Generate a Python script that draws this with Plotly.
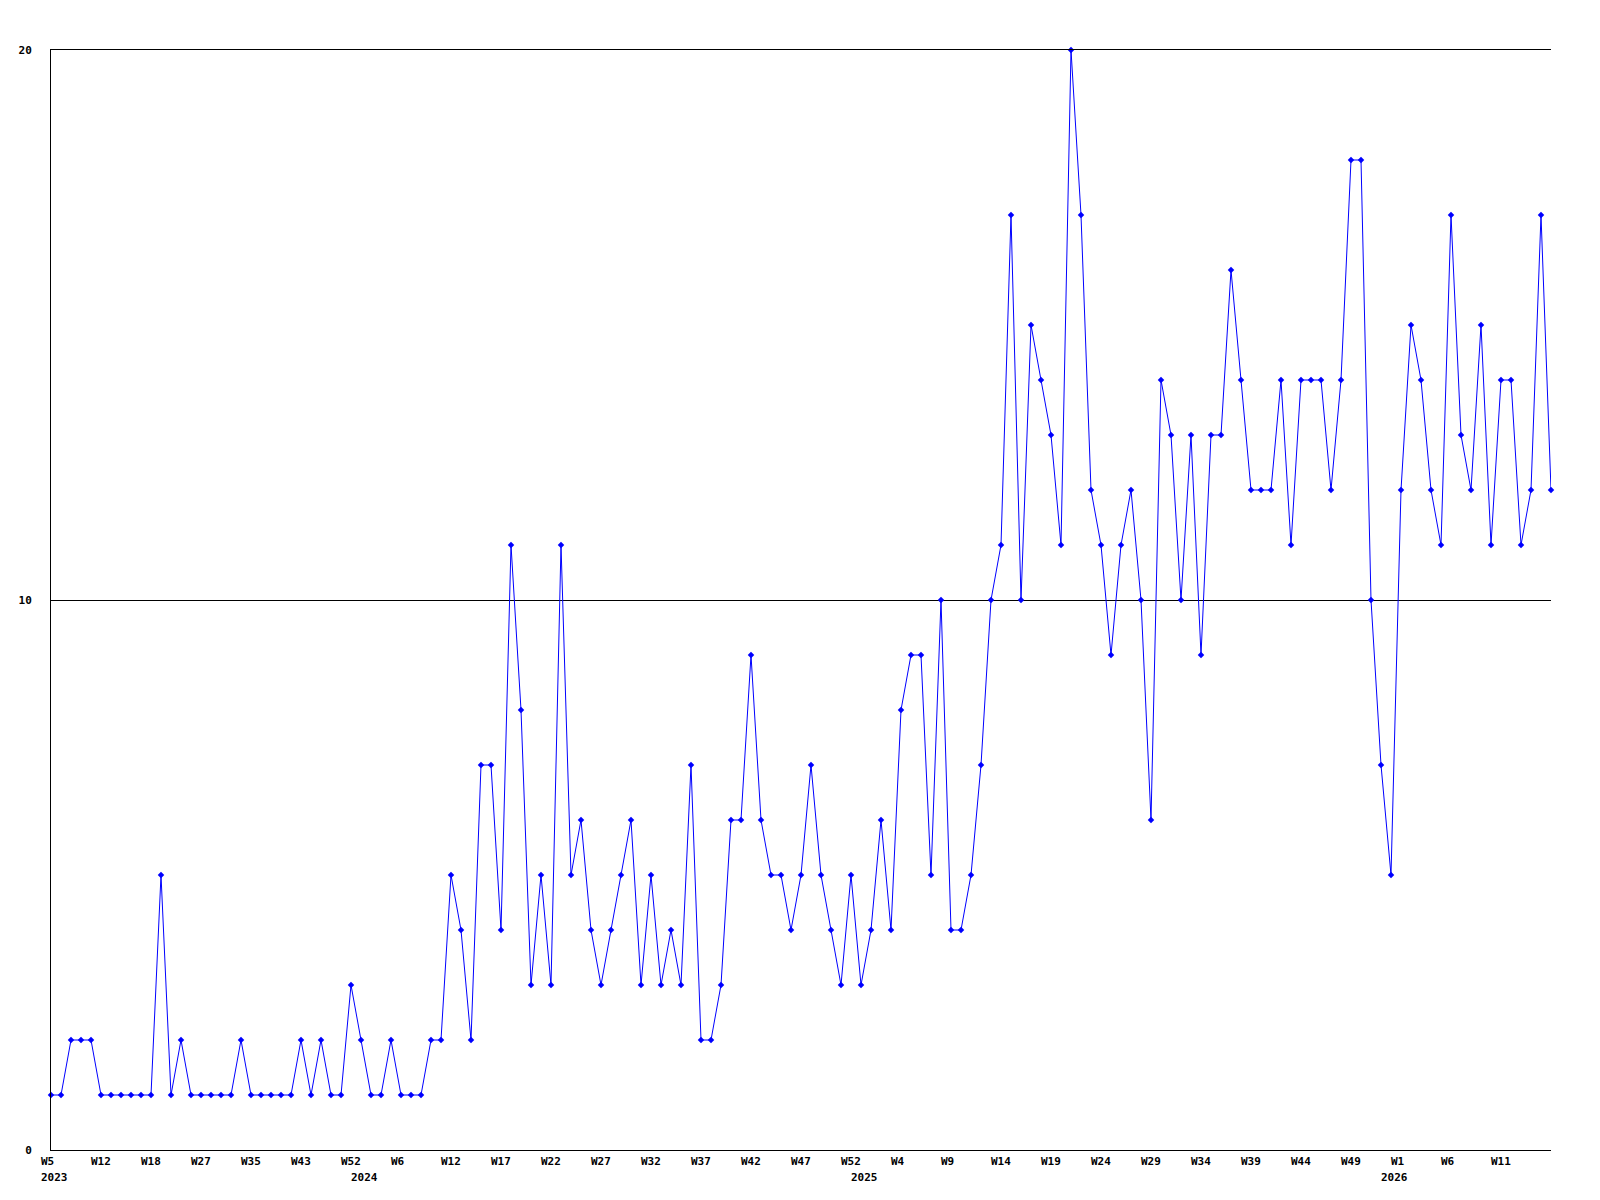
import plotly.graph_objects as go

values = [1, 1, 2, 2, 2, 1, 1, 1, 1, 1,
          1, 5, 1, 2, 1, 1, 1, 1, 1, 2,
          1, 1, 1, 1, 1, 2, 1, 2, 1, 1,
          3, 2, 1, 1, 2, 1, 1, 1, 2, 2,
          5, 4, 2, 7, 7, 4, 11, 8, 3, 5,
          3, 11, 5, 6, 4, 3, 4, 5, 6, 3,
          5, 3, 4, 3, 7, 2, 2, 3, 6, 6,
          9, 6, 5, 5, 4, 5, 7, 5, 4, 3,
          5, 3, 4, 6, 4, 8, 9, 9, 5, 10,
          4, 4, 5, 7, 10, 11, 17, 10, 15, 14,
          13, 11, 20, 17, 12, 11, 9, 11, 12, 10,
          6, 14, 13, 10, 13, 9, 13, 13, 16, 14,
          12, 12, 12, 14, 11, 14, 14, 14, 12, 14,
          18, 18, 10, 7, 5, 12, 15, 14, 12, 11,
          17, 13, 12, 15, 11, 14, 14, 11, 12, 17,
          12]

week_labels = ["W5", "W12", "W18", "W27", "W35", "W43", "W52", "W6", "W12", "W17",
               "W22", "W27", "W32", "W37", "W42", "W47", "W52", "W4", "W9", "W14",
               "W19", "W24", "W29", "W34", "W39", "W44", "W49", "W1", "W6", "W11"]
week_label_pos = [i * 5 for i in range(len(week_labels))]

year_labels = ["2023", "2024", "2025", "2026"]
year_label_pos = [0, 31, 81, 134]

y_ticks = [0, 10, 20]

x = list(range(len(values)))

FONT = dict(family="DejaVu Sans Mono", size=11, color="black", weight="bold")

fig = go.Figure()
fig.add_trace(go.Scatter(
    x=x, y=values, mode="lines+markers",
    line=dict(color="#0000ff", width=1),
    marker=dict(symbol="diamond", size=5, color="#0000ff"),
    cliponaxis=False, showlegend=False,
))

annotations = []
for p, t in zip(week_label_pos, week_labels):
    annotations.append(dict(x=p, y=0, xref="x", yref="paper", text=t, showarrow=False,
                            xanchor="left", yanchor="middle", xshift=-12, yshift=-11, font=FONT))
for p, t in zip(year_label_pos, year_labels):
    annotations.append(dict(x=p, y=0, xref="x", yref="paper", text=t, showarrow=False,
                            xanchor="left", yanchor="middle", xshift=-12, yshift=-27, font=FONT))

fig.update_layout(
    width=1584, height=1184,
    margin=dict(l=43, r=41, t=42, b=42, autoexpand=False),
    paper_bgcolor="white", plot_bgcolor="white",
    annotations=annotations,
    xaxis=dict(range=[0, len(values) - 1], showgrid=False, zeroline=False,
               showticklabels=False, showline=True, mirror=True,
               linecolor="black", linewidth=1, ticks="", automargin=False),
    yaxis=dict(range=[0, 20], tickvals=y_ticks, ticktext=[str(v) for v in y_ticks],
               showgrid=True, gridcolor="black", gridwidth=1, zeroline=False,
               showline=True, linecolor="black", linewidth=1, ticks="",
               tickfont=FONT, ticklabelstandoff=16, automargin=False),
)

fig.write_html("out.html")
